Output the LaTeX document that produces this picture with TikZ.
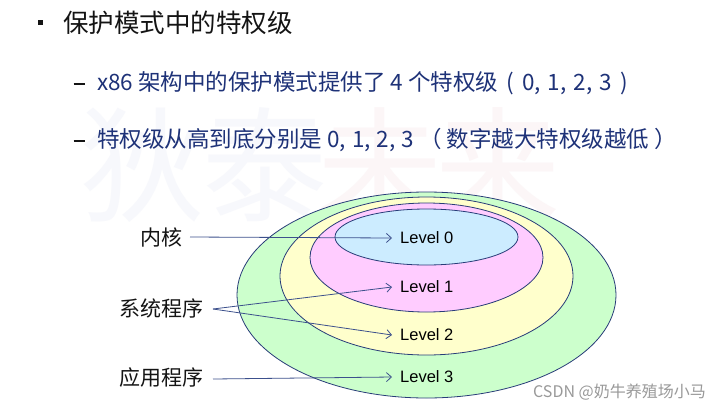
\documentclass[tikz,border=0pt]{standalone}
\usepackage{fontspec}
\setmainfont{Noto Sans CJK SC}
\newfontfamily\arialf{Liberation Sans}
\usetikzlibrary{arrows.meta}
\definecolor{cthree}{RGB}{204,255,204}
\definecolor{ctwo}{RGB}{255,255,204}
\definecolor{cone}{RGB}{255,204,255}
\definecolor{czero}{RGB}{204,236,255}
\definecolor{ringline}{RGB}{40,60,120}
\definecolor{arrowc}{RGB}{60,80,140}
\definecolor{subc}{RGB}{30,50,120}
\definecolor{titlec}{RGB}{20,20,20}
\definecolor{wmblue}{RGB}{247,248,252}
\definecolor{wmred}{RGB}{252,246,247}
\tikzset{
  ring/.style={draw=ringline, line width=0.8pt},
  lvl/.style={font=\arialf\fontsize{16.5}{18}\selectfont, anchor=west, inner sep=0pt, text=black},
  lbl/.style={font=\fontsize{21}{24}\selectfont, inner sep=0pt, anchor=east, text=titlec},
  conn/.style={draw=arrowc, line width=0.8pt, -{Straight Barb[length=5pt,width=9pt]}},
  subitem/.style={font=\fontsize{22.5}{25}\selectfont, text=subc, anchor=west, inner sep=0pt},
  dashmark/.style={inner sep=0pt, text=titlec},
  wm/.style={font=\fontsize{125}{130}\selectfont, inner sep=0pt}
}
\begin{document}
\begin{tikzpicture}[x=1pt,y=-1pt]
\useasboundingbox[fill=white] (0,0) rectangle (726,408);
% faint background watermark
\node[wm, text=wmblue] (w1) at (143,165) {狄};
\node[wm, text=wmblue] (w2) at (265,165) {泰};
\node[wm, text=wmred] (w3) at (380,165) {未};
\node[wm, text=wmred] (w4) at (498,165) {来};
% title
\fill[titlec] (38.3,20) rectangle (43.3,25);
\node[anchor=west, inner sep=0pt, font=\fontsize{25.5}{28}\selectfont, text=titlec] (title) at (63,23) {保护模式中的特权级};
% sub items
\node[dashmark] (d1) at (79,84) {\rule{11pt}{1.6pt}};
\node[subitem] (s1) at (97,83) {x86 架构中的保护模式提供了 4 个特权级\hspace{3pt} (\hspace{3pt} 0,\hspace{2pt} 1,\hspace{2pt} 2,\hspace{2pt} 3\hspace{3pt} )};
\node[dashmark] (d2) at (79,141) {\rule{11pt}{1.6pt}};
\node[subitem] (s2) at (97,140) {特权级从高到底分别是 0,\hspace{1pt} 1,\hspace{1pt} 2,\hspace{1pt} 3 （ 数字越大特权级越低 ）};
% rings
\draw[ring, fill=cthree] (426.5,295) ellipse [x radius=189.5pt, y radius=103pt];
\draw[ring, fill=ctwo] (426.5,276) ellipse [x radius=146.5pt, y radius=79pt];
\draw[ring, fill=cone] (426.5,257.5) ellipse [x radius=116.5pt, y radius=54.5pt];
\draw[ring, fill=czero] (426.5,237) ellipse [x radius=91.5pt, y radius=28pt];
% level labels
\node[lvl] (l0) at (400,238) {Level 0};
\node[lvl] (l1) at (400,287) {Level 1};
\node[lvl] (l2) at (400,335) {Level 2};
\node[lvl] (l3) at (400,377) {Level 3};
% left labels
\node[lbl] (kern) at (183,237) {内核};
\node[lbl] (sys) at (204,308) {系统程序};
\node[lbl] (app) at (204,378) {应用程序};
% connectors
\draw[conn] ([xshift=7pt]kern.east) -- ([xshift=-8pt]l0.west);
\draw[conn] ([xshift=9pt,yshift=-1pt]sys.east) -- ([xshift=-8pt]l1.west);
\draw[conn] ([xshift=9pt,yshift=-1pt]sys.east) -- ([xshift=-8pt]l2.west);
\draw[conn] ([xshift=9pt,yshift=-1pt]app.east) -- ([xshift=-8pt]l3.west);
% csdn watermark
\node[anchor=west, inner sep=0pt, font=\fontsize{16}{18}\selectfont, text=black!40] (csdn) at (533,392) {CSDN @奶牛养殖场小马};
\end{tikzpicture}
\end{document}
